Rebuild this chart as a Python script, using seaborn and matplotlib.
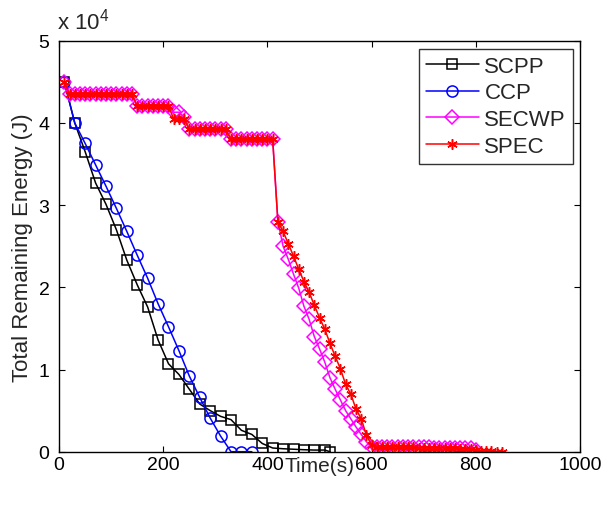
import matplotlib
matplotlib.use("Agg")
import matplotlib.pyplot as plt
import seaborn as sns

# sample times (s)
T_SCPP = [10, 30, 50, 70, 90, 110, 130, 150, 170, 190, 210, 230, 250, 270, 290,
          310, 330, 350, 370, 390, 410, 430, 450, 470, 490, 510, 520]
T_CCP = [10, 30, 50, 70, 90, 110, 130, 150, 170, 190, 210, 230, 250, 270, 290,
         310, 330, 350, 370]
T_SECWP = list(range(10, 810, 10))
T_SPEC = list(range(10, 860, 10))

E_SCPP = [45000, 40000, 36500, 32700, 30100, 27000, 23300, 20300, 17600, 13600,
          10700, 9400, 7600, 5800, 5000, 4300, 3900, 2600, 2100, 1000, 450, 360,
          300, 240, 200, 200, 0]
E_CCP = [45000, 40000, 37500, 34900, 32300, 29600, 26800, 23900, 21100, 18000,
         15200, 12300, 9200, 6600, 4100, 1900, 0, 0, 0]
E_SECWP = ([45000] + [43500] * 13 + [42000] * 7 + [41300, 41300, 40700]
           + [39200] * 8 + [38000] * 9
           + [28000, 25000, 23400, 21600, 19900, 17700, 16100, 14000, 12500, 10900,
              9000, 7600, 6300, 5000, 4000, 3000, 2100, 1200, 600]
           + [600, 600, 600, 600, 600, 600, 550, 550, 550, 550, 550, 500, 500, 500,
              500, 450, 450, 400, 400, 200])
E_SPEC = ([45000] + [43500] * 13 + [42000] * 7 + [40500, 40500, 40500]
          + [39200] * 8 + [38000] * 9
          + [28000, 26800, 25300, 23800, 22200, 20700, 19400, 17800, 16300, 14900,
             13200, 11600, 10100, 8200, 7000, 5200, 4000, 2000, 800]
          + [600, 600, 600, 600, 550, 550, 550, 550, 500, 500, 500, 500, 450, 450,
             400, 400, 350, 350, 300]
          + [200, 100, 100, 50, 0, 0])

SERIES = [
    ("SCPP", T_SCPP, E_SCPP, "#000000", "s", 6.5),
    ("CCP", T_CCP, E_CCP, "#0000ff", "o", 8),
    ("SECWP", T_SECWP, E_SECWP, "#ff00ff", "D", 7),
    ("SPEC", T_SPEC, E_SPEC, "#ff0000", (6, 2, 0), 7.5),
]

sns.set_theme(style="white")
plt.rcParams["font.family"] = ["Liberation Sans", "DejaVu Sans"]
plt.rcParams["mathtext.fontset"] = "custom"
plt.rcParams["mathtext.rm"] = "Liberation Sans"
plt.rcParams["mathtext.default"] = "regular"

fig = plt.figure(figsize=(6.09, 5.10), dpi=100)
ax = fig.add_axes([59.1 / 609, 1 - 452.7 / 510, (580 - 59.1) / 609, (452.7 - 41.7) / 510])

for name, t, e, color, marker, ms in SERIES:
    sns.lineplot(x=t, y=e, ax=ax, color=color, marker=marker, markersize=ms,
                 markerfacecolor="none", markeredgecolor=color, markeredgewidth=1.1,
                 linewidth=1.1, label=name, sort=False)

ax.set_xlim(0, 1000)
ax.set_ylim(0, 50000)
ax.set_xticks([0, 200, 400, 600, 800, 1000])
ax.set_yticks([0, 10000, 20000, 30000, 40000, 50000])
ax.set_yticklabels(["0", "1", "2", "3", "4", "5"])
ax.tick_params(direction="in", length=4, width=0.8, colors="black", labelsize=14,
               top=True, right=True, bottom=True, left=True)
ax.tick_params(axis="x", pad=3)
ax.tick_params(axis="y", pad=7)
for s in ax.spines.values():
    s.set_color("black")
    s.set_linewidth(1.0)

ax.set_xlabel("Time(s)", fontsize=15)
ax.xaxis.set_label_coords(0.5, -0.033)
ax.xaxis.label.set_va("center")
ax.set_ylabel("Total Remaining Energy (J)", fontsize=16)
ax.yaxis.set_label_coords(-0.071, 0.5)
ax.yaxis.label.set_va("center")

fig.text(57 / 609, 1 - 22 / 510, r"x 10$^{4}$", fontsize=16, va="center", ha="left")

leg = ax.legend(loc="upper right", bbox_to_anchor=(572.7 / 609, 1 - 50 / 510),
                bbox_transform=fig.transFigure, fontsize=16, frameon=True,
                fancybox=False, edgecolor="black", handlelength=2.4,
                handletextpad=0.25, labelspacing=0.26, borderpad=0.3,
                borderaxespad=0)
leg.get_frame().set_linewidth(1.0)

fig.savefig("out.png", dpi=100)
